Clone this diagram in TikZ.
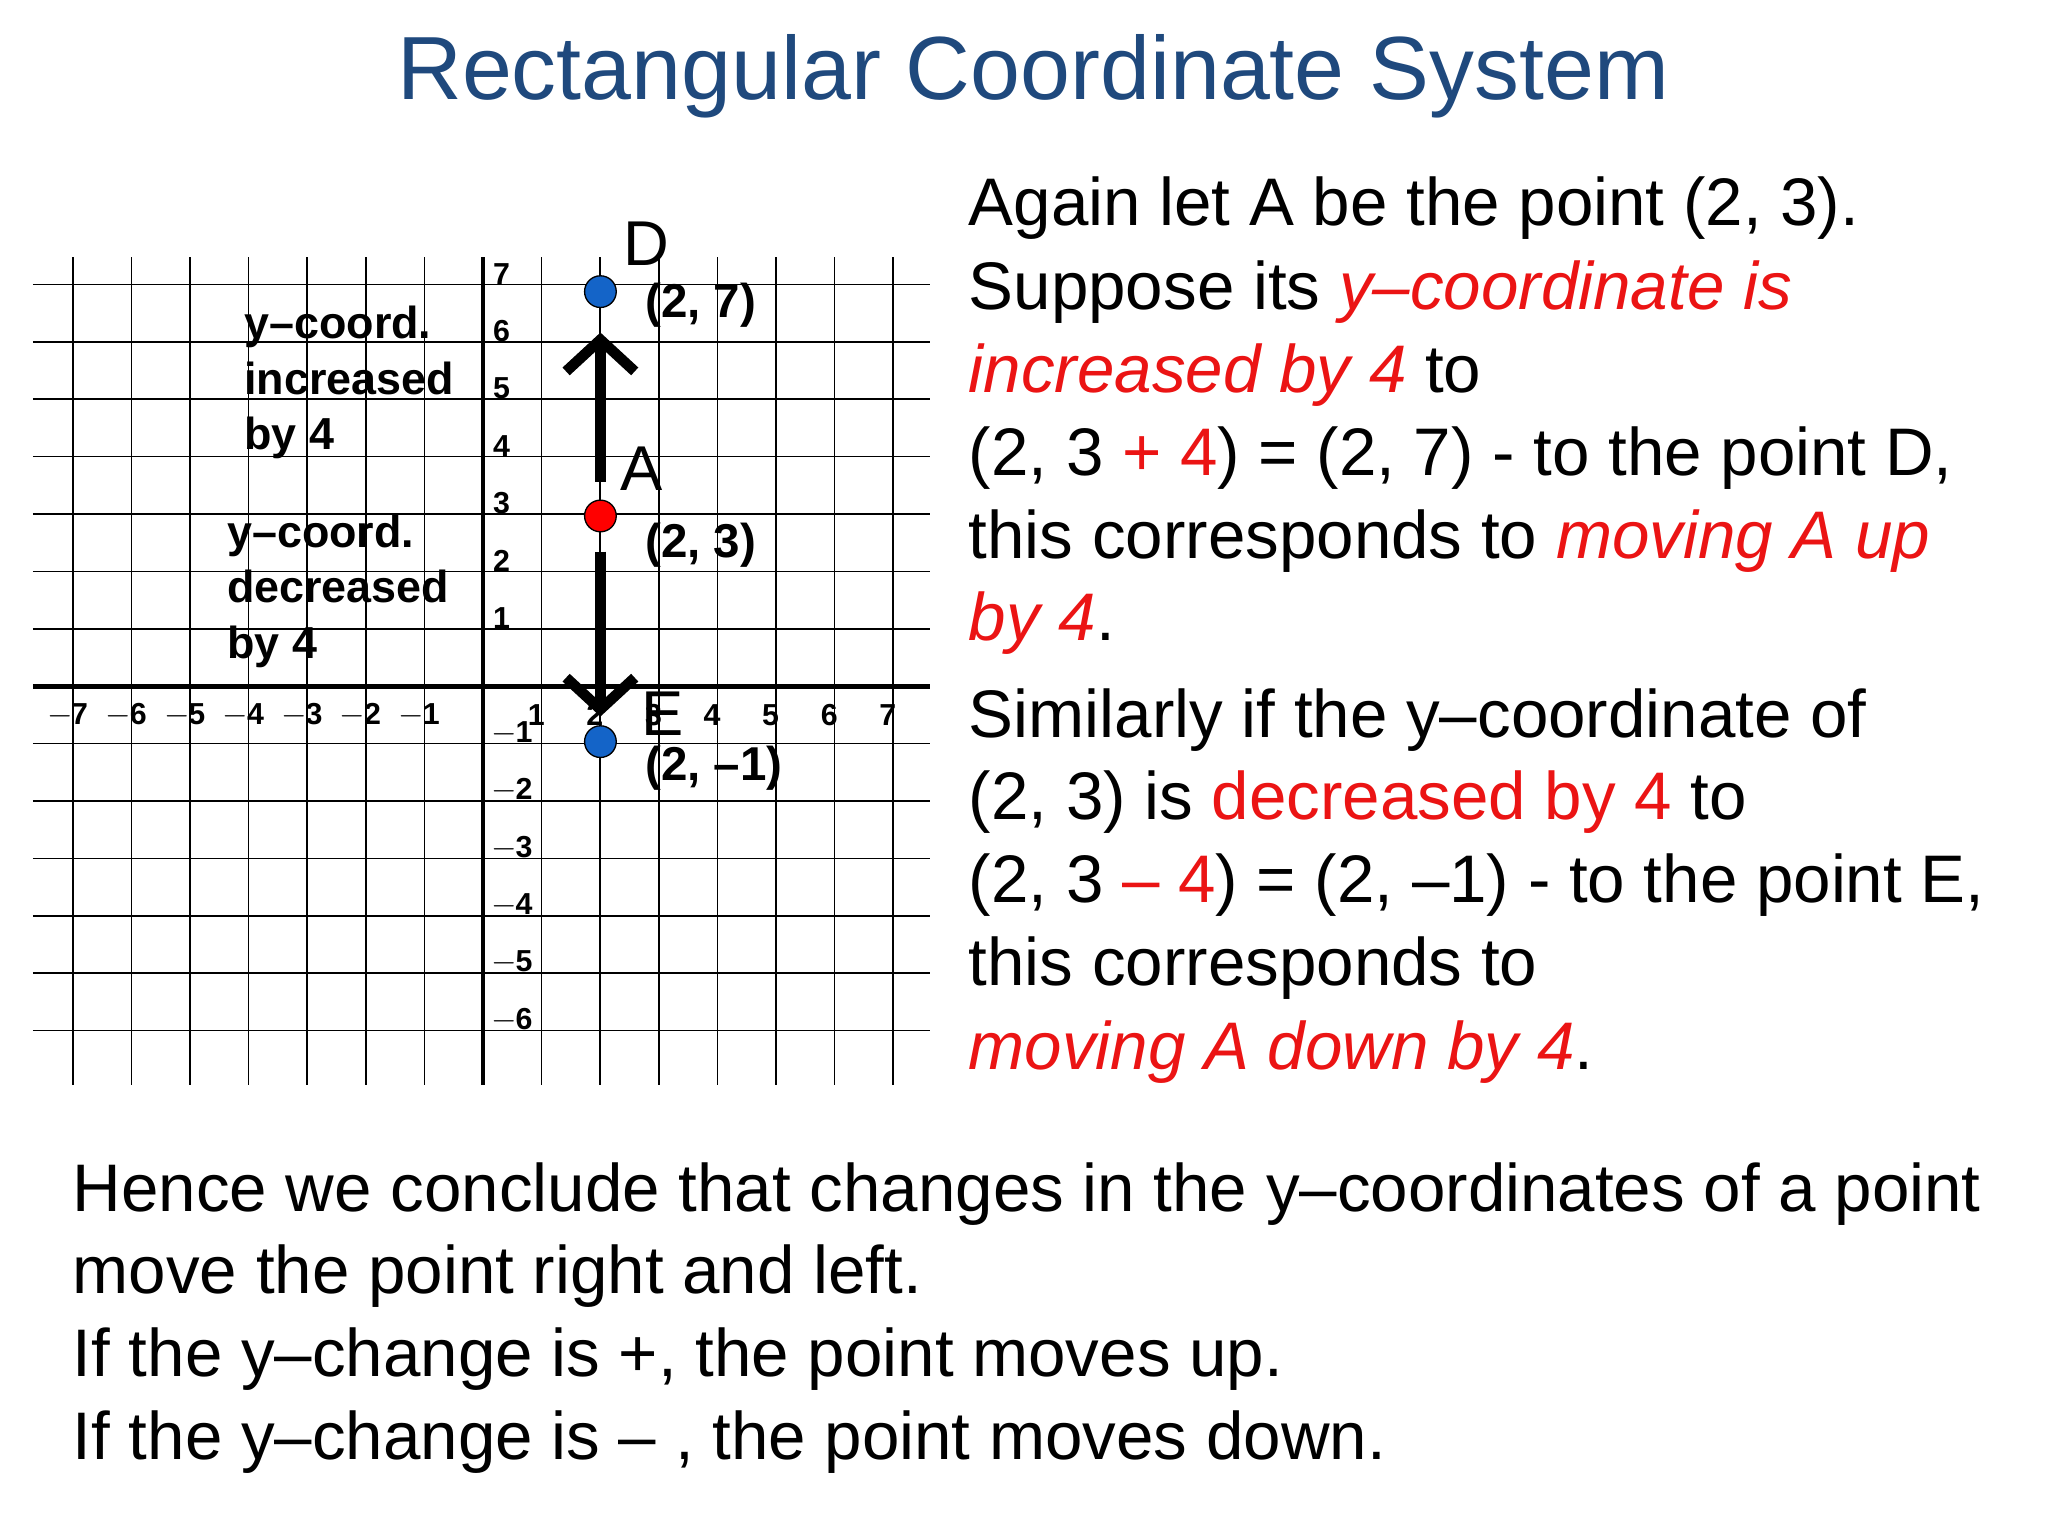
\documentclass[tikz,border=0pt]{standalone}
\usepackage{fontspec}
\setmainfont{Liberation Sans}
\usetikzlibrary{arrows.meta}
\definecolor{ttl}{RGB}{31,73,125}
\definecolor{rd}{RGB}{235,20,20}
\definecolor{bl}{RGB}{20,100,200}
\newcommand{\rr}[1]{\textcolor{rd}{#1}}
\begin{document}
\begin{tikzpicture}[x=1pt,y=-1pt,
  body/.style={anchor=west,inner sep=0pt,font=\fontsize{51}{63}\selectfont},
  tick/.style={inner sep=0pt,font=\fontsize{23}{23}\selectfont\bfseries},
  lbl/.style={inner sep=0pt,font=\fontsize{34}{42}\selectfont\bfseries,align=left,anchor=north west},
  pt/.style={circle,draw=black,line width=1pt,minimum size=24pt,inner sep=0pt},
  big/.style={inner sep=0pt,font=\fontsize{48}{48}\selectfont}]
\useasboundingbox (0,0) rectangle (1552,1164);
\fill[white] (0,0) rectangle (1552,1164);
\node[inner sep=0pt,text=ttl,font=\fontsize{68}{68}\selectfont] (title) at (783,58) {Rectangular Coordinate System};
% grid
\foreach \j in {-6,...,7} \draw[line width=1.2pt] (25,520-43.5*\j) -- (705,520-43.5*\j);
\foreach \i in {-7,...,7} \draw[line width=1.2pt] (366+44.4*\i,195) -- (366+44.4*\i,822);
\draw[line width=3.5pt] (25,520) -- (705,520);
\draw[line width=3.5pt] (366,195) -- (366,822);
\foreach \i in {-7,...,-1} \node[tick] at (366+44.4*\i-4,542) {$-$\hspace{-1pt}\the\numexpr-\i\relax};
\foreach \i in {1,...,7} \node[tick] at (366+44.4*\i-4,542) {\i};
\foreach \j in {1,...,7} \node[tick] at (380,520-43.5*\j-8) {\j};
\foreach \j in {1,...,6} \node[tick] at (388,520+43.5*\j-8) {$-$\hspace{-1pt}\j};
% arrows
\coordinate (u1) at (455,365); \coordinate (u2) at (455,252);
\coordinate (d1) at (455,418); \coordinate (d2) at (455,543);
\draw[line width=8pt,-{Straight Barb[length=24pt,width=52pt,line width=8pt]}] (u1) -- (u2);
\draw[line width=8pt,-{Straight Barb[length=24pt,width=52pt,line width=8pt]}] (d1) -- (d2);
\node[pt,fill=bl] (D) at (455,221) {};
\node[pt,fill=red] (A) at (455,391) {};
\node[pt,fill=bl] (E) at (455,562) {};
\node[big] (Dl) at (490,185) {D};
\node[big] (Al) at (486,355) {A};
\node[big] (El) at (502,541) {E};
\node[inner sep=0pt,font=\fontsize{36}{36}\selectfont\bfseries] (Dc) at (531,231) {(2, 7)};
\node[inner sep=0pt,font=\fontsize{36}{36}\selectfont\bfseries] (Ac) at (531,413) {(2, 3)};
\node[inner sep=0pt,font=\fontsize{36}{36}\selectfont\bfseries] (Ec) at (541,582) {(2, –1)};
\node[lbl] (inc) at (185,232) {y–coord.\\increased\\by 4};
\node[lbl] (dec) at (172,390) {y–coord.\\decreased\\by 4};
% right text
\node[body] (r1) at (734,158) {Again let A be the point (2, 3).};
\node[body] (r2) at (734,221) {Suppose its \rr{\itshape y–coordinate is}};
\node[body] (r3) at (734,284) {\rr{\itshape increased by 4} to};
\node[body] (r4) at (734,347) {(2, 3 \rr{+ 4}) = (2, 7) - to the point D,};
\node[body] (r5) at (734,410) {this corresponds to \rr{\itshape moving A up}};
\node[body] (r6) at (734,472) {\rr{\itshape by 4}.};
\node[body] (s1) at (734,546) {Similarly if the y–coordinate of};
\node[body] (s2) at (734,608) {(2, 3) is \rr{decreased by 4} to};
\node[body] (s3) at (734,671) {(2, 3 \rr{– 4}) = (2, –1) - to the point E,};
\node[body] (s4) at (734,734) {this corresponds to};
\node[body] (s5) at (734,797) {\rr{\itshape moving A down by 4}.};
\node[body] (b1) at (55,905) {Hence we conclude that changes in the y–coordinates of a point};
\node[body] (b2) at (55,967) {move the point right and left.};
\node[body] (b3) at (55,1030) {If the y–change is +, the point moves up.};
\node[body] (b4) at (55,1093) {If the y–change is – , the point moves down.};
\end{tikzpicture}
\end{document}
